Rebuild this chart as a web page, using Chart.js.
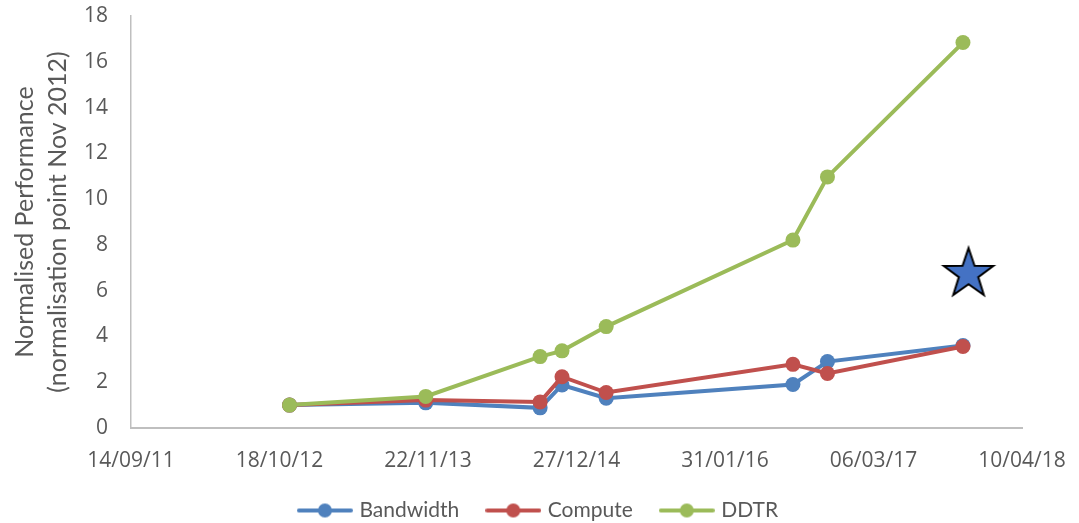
<!DOCTYPE html>
<html>
<head>
<meta charset="utf-8">
<title>Normalised Performance</title>
<script src="https://cdn.jsdelivr.net/npm/chart.js"></script>
<style>
  html, body { margin: 0; padding: 0; background: #ffffff; }
  #wrap { width: 1079px; height: 523px; }
</style>
</head>
<body>
<div id="wrap"><canvas id="perf" width="1079" height="523"></canvas></div>
<script>
// Release dates of each measurement and the normalised values (Nov 2012 = 1)
const releaseDates = ['2012-11-14', '2013-11-16', '2014-09-20', '2014-11-18', '2015-03-17', '2016-08-01', '2016-11-02', '2017-11-02'];
const bandwidth = [1.0, 1.1, 0.88, 1.88, 1.3, 1.9, 2.9, 3.6];
const compute   = [1.0, 1.22, 1.14, 2.24, 1.55, 2.78, 2.38, 3.56];
const ddtr      = [1.0, 1.38, 3.12, 3.37, 4.43, 8.21, 10.97, 16.84];
const seriesNames = ['Bandwidth', 'Compute', 'DDTR'];

// Single highlighted point (star)
const starDate = '2017-11-17';
const starValue = 6.73;

// Axis range: date ticks every 400 days from 14/09/11 to 10/04/18
const xStart = '2011-09-14';
const xEnd = '2018-04-10';
const xStepDays = 400;
const yMax = 18;
const yStep = 2;

const DAY = 86400000;
const colors = ['#4f81bd', '#c0504d', '#9bbb59'];
const textColor = '#595959';
const axisColor = '#bfbfbf';
const labelFont = 'Lato, "Open Sans", sans-serif';
const tickFont = '"Open Sans", Lato, sans-serif';

function toPoints(values) {
    return releaseDates.map((d, i) => ({ x: Date.parse(d), y: values[i] }));
}

function fmtDate(ms) {
    const d = new Date(ms);
    const p = n => String(n).padStart(2, '0');
    return p(d.getUTCDate()) + '/' + p(d.getUTCMonth() + 1) + '/' + p(d.getUTCFullYear() % 100);
}

// legend icon: short line with a dot in the middle
function makeLegendIcon(color) {
    const c = document.createElement('canvas');
    c.width = 56;
    c.height = 16;
    const g = c.getContext('2d');
    g.strokeStyle = color;
    g.lineWidth = 4;
    g.lineCap = 'round';
    g.beginPath();
    g.moveTo(2, 8);
    g.lineTo(54, 8);
    g.stroke();
    g.fillStyle = color;
    g.beginPath();
    g.arc(28, 8, 7, 0, Math.PI * 2);
    g.fill();
    return c;
}

// filled five-pointed star with black outline
function makeStar() {
    const c = document.createElement('canvas');
    c.width = 58;
    c.height = 58;
    const g = c.getContext('2d');
    const cx = 29, cy = 29, outer = 26, inner = 10.2;
    g.beginPath();
    for (let i = 0; i < 10; i++) {
        const r = i % 2 === 0 ? outer : inner;
        const a = -Math.PI / 2 + i * Math.PI / 5;
        const px = cx + r * Math.cos(a);
        const py = cy + r * Math.sin(a);
        if (i === 0) g.moveTo(px, py); else g.lineTo(px, py);
    }
    g.closePath();
    g.fillStyle = '#4472c4';
    g.fill();
    g.lineWidth = 2;
    g.strokeStyle = '#000000';
    g.stroke();
    return c;
}

const legendIcons = colors.map(makeLegendIcon);

function lineDataset(label, values, color, order) {
    return {
        label: label,
        data: toPoints(values),
        borderColor: color,
        backgroundColor: color,
        borderWidth: 4,
        tension: 0,
        pointRadius: 7.5,
        pointHoverRadius: 7.5,
        pointBorderWidth: 0,
        pointBackgroundColor: color,
        order: order
    };
}

const ctx = document.getElementById('perf').getContext('2d');

new Chart(ctx, {
    type: 'line',
    data: {
        datasets: [
            lineDataset(seriesNames[0], bandwidth, colors[0], 3),
            lineDataset(seriesNames[1], compute, colors[1], 2),
            lineDataset(seriesNames[2], ddtr, colors[2], 1),
            {
                label: 'star',
                data: [{ x: Date.parse(starDate), y: starValue }],
                showLine: false,
                pointStyle: makeStar(),
                pointRadius: 26,
                order: 0
            }
        ]
    },
    options: {
        responsive: false,
        animation: false,
        layout: {
            // the big star point would otherwise add its own padding around the plot
            autoPadding: false,
            padding: { top: 16, left: 0, right: 0, bottom: 0 }
        },
        plugins: {
            tooltip: { enabled: false },
            title: { display: false },
            legend: {
                display: true,
                position: 'bottom',
                maxHeight: 53,
                labels: {
                    usePointStyle: true,
                    pointStyleWidth: 48,
                    padding: 30,
                    color: textColor,
                    font: { family: labelFont, size: 21 },
                    generateLabels: chart => seriesNames.map((name, i) => ({
                        text: name,
                        pointStyle: legendIcons[i],
                        fontColor: textColor,
                        fillStyle: 'transparent',
                        strokeStyle: 'transparent',
                        lineWidth: 0,
                        hidden: false,
                        datasetIndex: i
                    }))
                }
            }
        },
        scales: {
            x: {
                type: 'linear',
                min: Date.parse(xStart),
                max: Date.parse(xEnd),
                grid: { display: false, drawTicks: false },
                border: { display: true, color: axisColor, width: 2 },
                ticks: {
                    stepSize: xStepDays * DAY,
                    padding: 20,
                    color: textColor,
                    font: { family: tickFont, size: 21 },
                    maxRotation: 0,
                    autoSkip: false,
                    callback: value => fmtDate(value)
                },
                afterFit: scale => {
                    scale.height = 42;
                    scale.paddingRight = 57;
                }
            },
            y: {
                min: 0,
                max: yMax,
                grid: { display: false, drawTicks: false },
                border: { display: true, color: axisColor, width: 1.5 },
                ticks: {
                    stepSize: yStep,
                    padding: 23,
                    color: textColor,
                    font: { family: tickFont, size: 21 }
                },
                title: {
                    display: true,
                    text: ['Normalised Performance', '(normalisation point Nov 2012)'],
                    color: textColor,
                    font: { family: labelFont, size: 25, lineHeight: 1.3 },
                    padding: { top: 9, bottom: 0 }
                },
                afterFit: scale => {
                    scale.width = 131;
                    scale.paddingTop = 0;
                    scale.paddingBottom = 0;
                }
            }
        }
    }
});
</script>
</body>
</html>
